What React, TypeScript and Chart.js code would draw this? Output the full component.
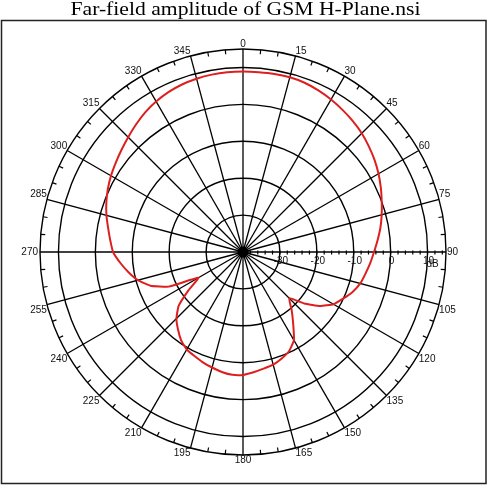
import React, { useEffect, useRef } from 'react';
import { Chart, registerables } from 'chart.js';

Chart.register(...registerables);

const TITLE = 'Far-field amplitude of GSM H-Plane.nsi';

// Angle categories (degrees), 5° resolution; labels are shown every 15°
const angleCategories = [
  '0', '5', '10', '15', '20', '25', '30', '35', '40', '45', '50', '55',
  '60', '65', '70', '75', '80', '85', '90', '95', '100', '105', '110', '115',
  '120', '125', '130', '135', '140', '145', '150', '155', '160', '165', '170', '175',
  '180', '185', '190', '195', '200', '205', '210', '215', '220', '225', '230', '235',
  '240', '245', '250', '255', '260', '265', '270', '275', '280', '285', '290', '295',
  '300', '305', '310', '315', '320', '325', '330', '335', '340', '345', '350', '355',
];

// Far-field amplitude (dB), one value per angle category
const amplitudeDb = [
  8.9, 8.9, 9.0, 9.0, 8.8, 8.3, 7.7, 7.0, 6.3, 5.5, 4.5, 3.5,
  2.4, 1.2, 0.0, -1.1, -2.2, -3.4, -4.5, -5.4, -6.3, -7.1, -8.4, -10.1,
  -11.7, -14.5, -18.3, -22.3, -19.5, -16.3, -12.4, -10.4, -9.3, -8.4, -7.9, -7.3,
  -6.7, -6.6, -7.0, -7.6, -8.2, -8.9, -9.5, -10.8, -12.6, -14.5, -17.2, -22.0,
  -26.0, -17.8, -13.3, -10.5, -8.5, -6.6, -4.8, -3.9, -2.9, -1.7, -0.6, 0.4,
  1.3, 2.1, 3.0, 4.0, 5.1, 6.2, 7.1, 7.8, 8.3, 8.6, 8.8, 8.9,
];

// Radial (dB) scale
const ringValues = [-40, -30, -20, -10, 0, 10, 15];
const dbTickLabels = [-30, -20, -10, 0, 10];
const dbMinorTicks = [
  -38, -36, -34, -32, -30, -28, -26, -24, -22, -20, -18, -16, -14, -12,
  -10, -8, -6, -4, -2, 0, 2, 4, 6, 8, 10, 12, 14,
];
const dbUnit = 'dB';

const LABEL_FONT = '10px "Liberation Sans", Arial, sans-serif';

const decorPlugin = {
  id: 'decor',
  afterDraw(chart: any) {
    const ctx: CanvasRenderingContext2D = chart.ctx;
    const r = chart.scales.r;
    const cx = r.xCenter;
    const cy = r.yCenter;
    const outer = r.getDistanceFromCenterForValue(r.max);
    ctx.save();

    // minor angle ticks on the outer ring
    ctx.strokeStyle = '#000';
    ctx.lineWidth = 1.2;
    angleCategories.forEach((lab, i) => {
      if (Number(lab) % 15 === 0) return;
      const p1 = r.getPointPosition(i, outer);
      const p2 = r.getPointPosition(i, outer - 4.5);
      ctx.beginPath();
      ctx.moveTo(p1.x, p1.y);
      ctx.lineTo(p2.x, p2.y);
      ctx.stroke();
    });

    // minor dB ticks along the 90° axis
    const idx90 = angleCategories.indexOf('90');
    dbMinorTicks.forEach((v) => {
      const p = r.getPointPosition(idx90, r.getDistanceFromCenterForValue(v));
      ctx.beginPath();
      ctx.moveTo(p.x, p.y - 1.5);
      ctx.lineTo(p.x, p.y + 2.5);
      ctx.stroke();
    });

    // centre hub
    ctx.fillStyle = '#000';
    ctx.beginPath();
    ctx.arc(cx, cy, 5.5, 0, Math.PI * 2);
    ctx.fill();

    // angle labels
    ctx.font = LABEL_FONT;
    ctx.fillStyle = '#111';
    angleCategories.forEach((lab, i) => {
      const a = Number(lab);
      if (a % 15 !== 0) return;
      const p = r.getPointPosition(i, outer);
      let x = p.x;
      let y = p.y;
      let align: CanvasTextAlign = 'center';
      let base: CanvasTextBaseline = 'alphabetic';
      if (a === 0 || a === 180) align = 'center';
      else if (a < 180) align = 'left';
      else align = 'right';
      if (a === 90) {
        base = 'middle';
        x += 1;
      } else if (a === 270) {
        base = 'middle';
        x -= 2;
      } else if (a < 90 || a > 270) {
        y -= 2;
      } else {
        base = 'top';
        y += 0.5;
      }
      ctx.textAlign = align;
      ctx.textBaseline = base;
      ctx.fillText(lab, x, y);
    });

    // dB labels along the 90° axis
    ctx.textAlign = 'center';
    ctx.textBaseline = 'top';
    dbTickLabels.forEach((v) => {
      const d = r.getDistanceFromCenterForValue(v);
      ctx.fillText(String(v), cx + d + 1, cy + 4);
    });
    const dLast = r.getDistanceFromCenterForValue(dbTickLabels[dbTickLabels.length - 1]);
    ctx.fillText(dbUnit, cx + dLast + 5, cy + 7);

    // frame
    ctx.strokeStyle = '#222';
    ctx.lineWidth = 1.5;
    ctx.strokeRect(1.5, 20.5, 484.5, 463);

    // title (horizontally stretched serif, as in the reference)
    ctx.font = '18px "Liberation Serif", "Times New Roman", serif';
    ctx.fillStyle = '#000';
    ctx.textAlign = 'center';
    ctx.textBaseline = 'alphabetic';
    const w = ctx.measureText(TITLE).width;
    ctx.translate(245.5, 14.7);
    ctx.scale(350 / w, 1);
    ctx.fillText(TITLE, 0, 0);

    ctx.restore();
  },
};

export default function App() {
  const ref = useRef<HTMLCanvasElement | null>(null);

  useEffect(() => {
    document.body.style.margin = '0';
    const canvas = ref.current;
    if (!canvas) return;
    const chart = new Chart(canvas, {
      type: 'radar',
      data: {
        labels: angleCategories,
        datasets: [
          {
            label: 'Far-field amplitude',
            data: amplitudeDb,
            borderColor: '#dd1f1f',
            borderWidth: 2,
            backgroundColor: 'rgba(0,0,0,0)',
            fill: false,
            pointRadius: 0,
            pointHoverRadius: 0,
            tension: 0.12,
          },
        ],
      },
      options: {
        responsive: false,
        animation: false,
        events: [],
        layout: { padding: { left: 40, right: 42, top: 49, bottom: 31 } },
        plugins: {
          legend: { display: false },
          tooltip: { enabled: false },
          title: { display: false },
        },
        scales: {
          r: {
            min: -40,
            max: 15,
            startAngle: 0,
            afterBuildTicks: (scale: any) => {
              scale.ticks = ringValues.map((v) => ({ value: v }));
            },
            ticks: { display: false },
            grid: { display: true, circular: true, color: '#000', lineWidth: 1.4 },
            angleLines: {
              display: true,
              color: '#000',
              lineWidth: (c: any) => (Number(angleCategories[c.index]) % 15 === 0 ? 1.3 : 0),
            },
            pointLabels: { display: false },
          },
        },
      },
      plugins: [decorPlugin],
    });
    return () => chart.destroy();
  }, []);

  return <canvas ref={ref} width={488} height={486} style={{ display: 'block' }} />;
}
